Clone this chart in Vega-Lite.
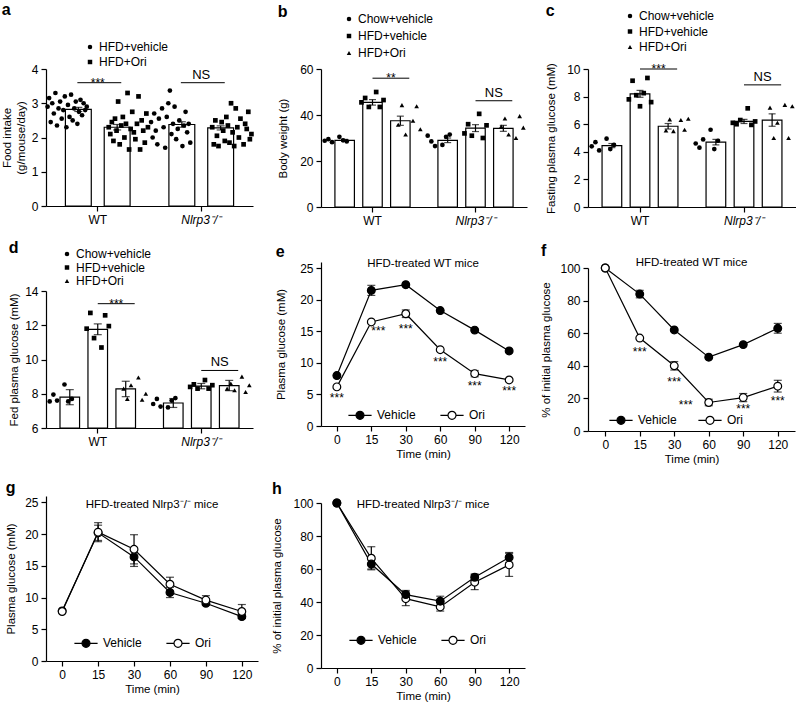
{
"$schema": "https://vega.github.io/schema/vega-lite/v6.json",
"padding": {"left": 1, "top": 2, "right": 0, "bottom": 0},
"config": {
 "font": "Liberation Sans",
 "view": {"stroke": null},
 "axis": {"domainColor": "black", "domainWidth": 1.2, "tickColor": "black", "tickWidth": 1.2, "tickSize": 5, "labelColor": "black", "titleColor": "black", "labelFontSize": 12, "titleFontSize": 11.5, "titleFontWeight": "normal", "grid": false, "labelPadding": 3, "labelOverlap": false},
 "legend": {"labelFontSize": 12, "labelColor": "black"},
 "title": {"anchor": "start", "fontSize": 16, "fontWeight": "bold", "color": "black"},
 "text": {"color": "black"}
},
"datasets": {
 "a_bar": [
  {"geno": "WT", "grp": "HFD+vehicle", "mean": 2.82, "lo": 2.76, "hi": 2.88},
  {"geno": "WT", "grp": "HFD+Ori", "mean": 2.30, "lo": 2.22, "hi": 2.38},
  {"geno": "KO", "grp": "HFD+vehicle", "mean": 2.38, "lo": 2.30, "hi": 2.46},
  {"geno": "KO", "grp": "HFD+Ori", "mean": 2.28, "lo": 2.22, "hi": 2.34}
 ],
 "a_pts": [
  {"geno":"WT","grp":"HFD+vehicle","m":"V1","v":2.9},{"geno":"WT","grp":"HFD+vehicle","m":"V2","v":3.15},{"geno":"WT","grp":"HFD+vehicle","m":"V3","v":2.45},{"geno":"WT","grp":"HFD+vehicle","m":"V4","v":3.0},{"geno":"WT","grp":"HFD+vehicle","m":"V5","v":2.7},{"geno":"WT","grp":"HFD+vehicle","m":"V6","v":3.3},{"geno":"WT","grp":"HFD+vehicle","m":"V7","v":2.35},{"geno":"WT","grp":"HFD+vehicle","m":"V8","v":2.85},{"geno":"WT","grp":"HFD+vehicle","m":"V9","v":3.05},{"geno":"WT","grp":"HFD+vehicle","m":"V10","v":2.55},{"geno":"WT","grp":"HFD+vehicle","m":"V11","v":2.8},{"geno":"WT","grp":"HFD+vehicle","m":"V12","v":3.2},{"geno":"WT","grp":"HFD+vehicle","m":"V13","v":2.3},{"geno":"WT","grp":"HFD+vehicle","m":"V14","v":2.95},{"geno":"WT","grp":"HFD+vehicle","m":"V15","v":2.6},{"geno":"WT","grp":"HFD+vehicle","m":"V16","v":3.25},{"geno":"WT","grp":"HFD+vehicle","m":"V17","v":2.5},{"geno":"WT","grp":"HFD+vehicle","m":"V18","v":2.85},{"geno":"WT","grp":"HFD+vehicle","m":"V19","v":3.05},{"geno":"WT","grp":"HFD+vehicle","m":"V20","v":2.4},{"geno":"WT","grp":"HFD+vehicle","m":"V21","v":2.75},{"geno":"WT","grp":"HFD+vehicle","m":"V22","v":3.1},{"geno":"WT","grp":"HFD+vehicle","m":"V23","v":2.65},{"geno":"WT","grp":"HFD+vehicle","m":"V24","v":3.0},{"geno":"WT","grp":"HFD+vehicle","m":"V25","v":2.8},{"geno":"WT","grp":"HFD+vehicle","m":"V26","v":2.9},
  {"geno":"WT","grp":"HFD+Ori","m":"O1","v":2.3},{"geno":"WT","grp":"HFD+Ori","m":"O2","v":2.1},{"geno":"WT","grp":"HFD+Ori","m":"O3","v":2.45},{"geno":"WT","grp":"HFD+Ori","m":"O4","v":1.9},{"geno":"WT","grp":"HFD+Ori","m":"O5","v":2.55},{"geno":"WT","grp":"HFD+Ori","m":"O6","v":2.2},{"geno":"WT","grp":"HFD+Ori","m":"O7","v":3.05},{"geno":"WT","grp":"HFD+Ori","m":"O8","v":1.8},{"geno":"WT","grp":"HFD+Ori","m":"O9","v":2.35},{"geno":"WT","grp":"HFD+Ori","m":"O10","v":2.6},{"geno":"WT","grp":"HFD+Ori","m":"O11","v":2.0},{"geno":"WT","grp":"HFD+Ori","m":"O12","v":2.4},{"geno":"WT","grp":"HFD+Ori","m":"O13","v":3.3},{"geno":"WT","grp":"HFD+Ori","m":"O14","v":1.65},{"geno":"WT","grp":"HFD+Ori","m":"O15","v":2.25},{"geno":"WT","grp":"HFD+Ori","m":"O16","v":2.75},{"geno":"WT","grp":"HFD+Ori","m":"O17","v":2.15},{"geno":"WT","grp":"HFD+Ori","m":"O18","v":1.95},{"geno":"WT","grp":"HFD+Ori","m":"O19","v":2.4},{"geno":"WT","grp":"HFD+Ori","m":"O20","v":3.2},{"geno":"WT","grp":"HFD+Ori","m":"O21","v":1.65},{"geno":"WT","grp":"HFD+Ori","m":"O22","v":2.5},{"geno":"WT","grp":"HFD+Ori","m":"O23","v":2.2},{"geno":"WT","grp":"HFD+Ori","m":"O24","v":1.85},{"geno":"WT","grp":"HFD+Ori","m":"O25","v":2.7},{"geno":"WT","grp":"HFD+Ori","m":"O26","v":2.3},
  {"geno":"KO","grp":"HFD+vehicle","m":"V1","v":2.45},{"geno":"KO","grp":"HFD+vehicle","m":"V2","v":2.0},{"geno":"KO","grp":"HFD+vehicle","m":"V3","v":2.7},{"geno":"KO","grp":"HFD+vehicle","m":"V4","v":2.2},{"geno":"KO","grp":"HFD+vehicle","m":"V5","v":1.8},{"geno":"KO","grp":"HFD+vehicle","m":"V6","v":2.55},{"geno":"KO","grp":"HFD+vehicle","m":"V8","v":2.85},{"geno":"KO","grp":"HFD+vehicle","m":"V9","v":2.3},{"geno":"KO","grp":"HFD+vehicle","m":"V10","v":1.7},{"geno":"KO","grp":"HFD+vehicle","m":"V11","v":2.6},{"geno":"KO","grp":"HFD+vehicle","m":"V12","v":3.0},{"geno":"KO","grp":"HFD+vehicle","m":"V13","v":3.37},{"geno":"KO","grp":"HFD+vehicle","m":"V14","v":2.1},{"geno":"KO","grp":"HFD+vehicle","m":"V15","v":2.4},{"geno":"KO","grp":"HFD+vehicle","m":"V16","v":2.9},{"geno":"KO","grp":"HFD+vehicle","m":"V17","v":1.95},{"geno":"KO","grp":"HFD+vehicle","m":"V18","v":2.25},{"geno":"KO","grp":"HFD+vehicle","m":"V19","v":2.5},{"geno":"KO","grp":"HFD+vehicle","m":"V21","v":1.75},{"geno":"KO","grp":"HFD+vehicle","m":"V22","v":2.35},{"geno":"KO","grp":"HFD+vehicle","m":"V23","v":2.75},{"geno":"KO","grp":"HFD+vehicle","m":"V24","v":2.15},{"geno":"KO","grp":"HFD+vehicle","m":"V25","v":2.4},{"geno":"KO","grp":"HFD+vehicle","m":"V26","v":1.85},
  {"geno":"KO","grp":"HFD+Ori","m":"O1","v":2.3},{"geno":"KO","grp":"HFD+Ori","m":"O2","v":1.8},{"geno":"KO","grp":"HFD+Ori","m":"O3","v":2.5},{"geno":"KO","grp":"HFD+Ori","m":"O4","v":2.05},{"geno":"KO","grp":"HFD+Ori","m":"O5","v":1.75},{"geno":"KO","grp":"HFD+Ori","m":"O7","v":2.45},{"geno":"KO","grp":"HFD+Ori","m":"O8","v":2.2},{"geno":"KO","grp":"HFD+Ori","m":"O9","v":1.9},{"geno":"KO","grp":"HFD+Ori","m":"O10","v":2.6},{"geno":"KO","grp":"HFD+Ori","m":"O11","v":2.35},{"geno":"KO","grp":"HFD+Ori","m":"O12","v":1.85},{"geno":"KO","grp":"HFD+Ori","m":"O13","v":3.0},{"geno":"KO","grp":"HFD+Ori","m":"O14","v":2.15},{"geno":"KO","grp":"HFD+Ori","m":"O15","v":1.75},{"geno":"KO","grp":"HFD+Ori","m":"O16","v":2.85},{"geno":"KO","grp":"HFD+Ori","m":"O17","v":2.3},{"geno":"KO","grp":"HFD+Ori","m":"O18","v":2.0},{"geno":"KO","grp":"HFD+Ori","m":"O19","v":2.55},{"geno":"KO","grp":"HFD+Ori","m":"O21","v":1.8},{"geno":"KO","grp":"HFD+Ori","m":"O22","v":2.4},{"geno":"KO","grp":"HFD+Ori","m":"O23","v":2.25},{"geno":"KO","grp":"HFD+Ori","m":"O24","v":2.75},{"geno":"KO","grp":"HFD+Ori","m":"O25","v":1.95},{"geno":"KO","grp":"HFD+Ori","m":"O26","v":2.1}
 ],
 "a_sig": [{"geno":"WT","m":"V20","y":3.6},{"geno":"WT","m":"O9","y":3.6},{"geno":"KO","m":"V20","y":3.6},{"geno":"KO","m":"O9","y":3.6}],
 "a_lab": [{"geno":"WT","m":"g7","y":3.6,"label":"***"},{"geno":"KO","m":"g7","y":3.6,"label":"NS"}],
 "b_bar": [
  {"geno":"WT","grp":"Chow+vehicle","mean":29.0,"lo":28.6,"hi":29.4},
  {"geno":"WT","grp":"HFD+vehicle","mean":45.5,"lo":44.3,"hi":46.7},
  {"geno":"WT","grp":"HFD+Ori","mean":37.5,"lo":35.5,"hi":39.5},
  {"geno":"KO","grp":"Chow+vehicle","mean":29.0,"lo":28.0,"hi":30.0},
  {"geno":"KO","grp":"HFD+vehicle","mean":34.3,"lo":32.8,"hi":35.8},
  {"geno":"KO","grp":"HFD+Ori","mean":34.2,"lo":32.9,"hi":35.5}
 ],
 "b_pts": [
  {"geno":"WT","grp":"Chow+vehicle","m":"C1","v":28.8},{"geno":"WT","grp":"Chow+vehicle","m":"C2","v":29.5},{"geno":"WT","grp":"Chow+vehicle","m":"C3","v":28.2},{"geno":"WT","grp":"Chow+vehicle","m":"C5","v":30.5},{"geno":"WT","grp":"Chow+vehicle","m":"C6","v":29.0},{"geno":"WT","grp":"Chow+vehicle","m":"C7","v":28.5},
  {"geno":"WT","grp":"HFD+vehicle","m":"H1","v":45.5},{"geno":"WT","grp":"HFD+vehicle","m":"H2","v":47.4},{"geno":"WT","grp":"HFD+vehicle","m":"H3","v":43.5},{"geno":"WT","grp":"HFD+vehicle","m":"H5","v":50.0},{"geno":"WT","grp":"HFD+vehicle","m":"H6","v":43.5},{"geno":"WT","grp":"HFD+vehicle","m":"H7","v":46.5},
  {"geno":"WT","grp":"HFD+Ori","m":"O1","v":35.8},{"geno":"WT","grp":"HFD+Ori","m":"O2","v":44.3},{"geno":"WT","grp":"HFD+Ori","m":"O3","v":31.5},{"geno":"WT","grp":"HFD+Ori","m":"O5","v":37.5},{"geno":"WT","grp":"HFD+Ori","m":"O6","v":43.8},{"geno":"WT","grp":"HFD+Ori","m":"O7","v":33.8},
  {"geno":"KO","grp":"Chow+vehicle","m":"C1","v":31.0},{"geno":"KO","grp":"Chow+vehicle","m":"C2","v":28.5},{"geno":"KO","grp":"Chow+vehicle","m":"C3","v":26.5},{"geno":"KO","grp":"Chow+vehicle","m":"C5","v":27.0},{"geno":"KO","grp":"Chow+vehicle","m":"C6","v":30.5},{"geno":"KO","grp":"Chow+vehicle","m":"C7","v":31.5},
  {"geno":"KO","grp":"HFD+vehicle","m":"H1","v":32.0},{"geno":"KO","grp":"HFD+vehicle","m":"H2","v":36.0},{"geno":"KO","grp":"HFD+vehicle","m":"H3","v":31.0},{"geno":"KO","grp":"HFD+vehicle","m":"H5","v":40.5},{"geno":"KO","grp":"HFD+vehicle","m":"H6","v":30.0},{"geno":"KO","grp":"HFD+vehicle","m":"H7","v":35.5},
  {"geno":"KO","grp":"HFD+Ori","m":"O1","v":35.0},{"geno":"KO","grp":"HFD+Ori","m":"O2","v":38.5},{"geno":"KO","grp":"HFD+Ori","m":"O3","v":31.5},{"geno":"KO","grp":"HFD+Ori","m":"O5","v":30.0},{"geno":"KO","grp":"HFD+Ori","m":"O6","v":39.5},{"geno":"KO","grp":"HFD+Ori","m":"O7","v":34.5}
 ],
 "b_sig": [{"geno":"WT","m":"H4","y":56},{"geno":"WT","m":"O4","y":56},{"geno":"KO","m":"H4","y":46.2},{"geno":"KO","m":"O4","y":46.2}],
 "b_lab": [{"geno":"WT","m":"s5","y":56,"label":"**"},{"geno":"KO","m":"s5","y":46.2,"label":"NS"}],
 "c_bar": [
  {"geno":"WT","grp":"Chow+vehicle","mean":4.45,"lo":4.3,"hi":4.6},
  {"geno":"WT","grp":"HFD+vehicle","mean":8.2,"lo":7.95,"hi":8.45},
  {"geno":"WT","grp":"HFD+Ori","mean":5.85,"lo":5.65,"hi":6.05},
  {"geno":"KO","grp":"Chow+vehicle","mean":4.7,"lo":4.5,"hi":4.9},
  {"geno":"KO","grp":"HFD+vehicle","mean":6.2,"lo":6.05,"hi":6.35},
  {"geno":"KO","grp":"HFD+Ori","mean":6.3,"lo":5.85,"hi":6.75}
 ],
 "c_pts": [
  {"geno":"WT","grp":"Chow+vehicle","m":"C1","v":4.4},{"geno":"WT","grp":"Chow+vehicle","m":"C2","v":4.7},{"geno":"WT","grp":"Chow+vehicle","m":"C3","v":4.1},{"geno":"WT","grp":"Chow+vehicle","m":"C5","v":4.95},{"geno":"WT","grp":"Chow+vehicle","m":"C6","v":4.2},{"geno":"WT","grp":"Chow+vehicle","m":"C7","v":4.5},
  {"geno":"WT","grp":"HFD+vehicle","m":"H1","v":7.8},{"geno":"WT","grp":"HFD+vehicle","m":"H2","v":9.15},{"geno":"WT","grp":"HFD+vehicle","m":"H3","v":8.1},{"geno":"WT","grp":"HFD+vehicle","m":"H4","v":7.3},{"geno":"WT","grp":"HFD+vehicle","m":"H5","v":8.25},{"geno":"WT","grp":"HFD+vehicle","m":"H6","v":9.35},{"geno":"WT","grp":"HFD+vehicle","m":"H7","v":7.6},
  {"geno":"WT","grp":"HFD+Ori","m":"O1","v":5.55},{"geno":"WT","grp":"HFD+Ori","m":"O2","v":6.35},{"geno":"WT","grp":"HFD+Ori","m":"O3","v":5.5},{"geno":"WT","grp":"HFD+Ori","m":"O5","v":6.3},{"geno":"WT","grp":"HFD+Ori","m":"O6","v":5.6},{"geno":"WT","grp":"HFD+Ori","m":"O7","v":6.4},
  {"geno":"KO","grp":"Chow+vehicle","m":"C1","v":4.6},{"geno":"KO","grp":"Chow+vehicle","m":"C2","v":4.3},{"geno":"KO","grp":"Chow+vehicle","m":"C3","v":4.9},{"geno":"KO","grp":"Chow+vehicle","m":"C5","v":5.6},{"geno":"KO","grp":"Chow+vehicle","m":"C6","v":4.2},{"geno":"KO","grp":"Chow+vehicle","m":"C7","v":4.8},
  {"geno":"KO","grp":"HFD+vehicle","m":"H1","v":6.1},{"geno":"KO","grp":"HFD+vehicle","m":"H2","v":6.0},{"geno":"KO","grp":"HFD+vehicle","m":"H3","v":6.3},{"geno":"KO","grp":"HFD+vehicle","m":"H5","v":7.15},{"geno":"KO","grp":"HFD+vehicle","m":"H6","v":5.95},{"geno":"KO","grp":"HFD+vehicle","m":"H7","v":6.2},
  {"geno":"KO","grp":"HFD+Ori","m":"O1","v":7.2},{"geno":"KO","grp":"HFD+Ori","m":"O2","v":5.0},{"geno":"KO","grp":"HFD+Ori","m":"O3","v":6.1},{"geno":"KO","grp":"HFD+Ori","m":"O5","v":7.4},{"geno":"KO","grp":"HFD+Ori","m":"O6","v":5.0},{"geno":"KO","grp":"HFD+Ori","m":"O7","v":7.3}
 ],
 "c_sig": [{"geno":"WT","m":"H4","y":10.0},{"geno":"WT","m":"O4","y":10.0},{"geno":"KO","m":"H4","y":8.85},{"geno":"KO","m":"O4","y":8.85}],
 "c_lab": [{"geno":"WT","m":"s5","y":10.0,"label":"***"},{"geno":"KO","m":"s5","y":8.85,"label":"NS"}],
 "d_bar": [
  {"geno":"WT","grp":"Chow+vehicle","mean":7.8,"lo":7.36,"hi":8.24},
  {"geno":"WT","grp":"HFD+vehicle","mean":11.76,"lo":11.45,"hi":12.08},
  {"geno":"WT","grp":"HFD+Ori","mean":8.28,"lo":7.83,"hi":8.73},
  {"geno":"KO","grp":"Chow+vehicle","mean":7.46,"lo":7.2,"hi":7.72},
  {"geno":"KO","grp":"HFD+vehicle","mean":8.44,"lo":8.29,"hi":8.6},
  {"geno":"KO","grp":"HFD+Ori","mean":8.48,"lo":8.18,"hi":8.78}
 ],
 "d_pts": [
  {"geno":"WT","grp":"Chow+vehicle","m":"C1","v":7.55},{"geno":"WT","grp":"Chow+vehicle","m":"C2","v":7.95},{"geno":"WT","grp":"Chow+vehicle","m":"C3","v":7.6},{"geno":"WT","grp":"Chow+vehicle","m":"C5","v":8.54},{"geno":"WT","grp":"Chow+vehicle","m":"C6","v":7.55},{"geno":"WT","grp":"Chow+vehicle","m":"C7","v":7.7},
  {"geno":"WT","grp":"HFD+vehicle","m":"H1","v":11.8},{"geno":"WT","grp":"HFD+vehicle","m":"H2","v":12.72},{"geno":"WT","grp":"HFD+vehicle","m":"H3","v":11.25},{"geno":"WT","grp":"HFD+vehicle","m":"H5","v":10.7},{"geno":"WT","grp":"HFD+vehicle","m":"H6","v":12.58},{"geno":"WT","grp":"HFD+vehicle","m":"H7","v":11.95},
  {"geno":"WT","grp":"HFD+Ori","m":"O1","v":8.3},{"geno":"WT","grp":"HFD+Ori","m":"O2","v":7.7},{"geno":"WT","grp":"HFD+Ori","m":"O3","v":8.5},{"geno":"WT","grp":"HFD+Ori","m":"O5","v":8.95},{"geno":"WT","grp":"HFD+Ori","m":"O6","v":7.65},{"geno":"WT","grp":"HFD+Ori","m":"O7","v":8.0},
  {"geno":"KO","grp":"Chow+vehicle","m":"C1","v":7.4},{"geno":"KO","grp":"Chow+vehicle","m":"C2","v":7.7},{"geno":"KO","grp":"Chow+vehicle","m":"C3","v":7.25},{"geno":"KO","grp":"Chow+vehicle","m":"C5","v":7.2},{"geno":"KO","grp":"Chow+vehicle","m":"C6","v":7.6},{"geno":"KO","grp":"Chow+vehicle","m":"C7","v":7.75},
  {"geno":"KO","grp":"HFD+vehicle","m":"H1","v":8.4},{"geno":"KO","grp":"HFD+vehicle","m":"H2","v":8.55},{"geno":"KO","grp":"HFD+vehicle","m":"H3","v":8.3},{"geno":"KO","grp":"HFD+vehicle","m":"H5","v":8.8},{"geno":"KO","grp":"HFD+vehicle","m":"H6","v":8.3},{"geno":"KO","grp":"HFD+vehicle","m":"H7","v":8.5},
  {"geno":"KO","grp":"HFD+Ori","m":"O1","v":8.3},{"geno":"KO","grp":"HFD+Ori","m":"O2","v":8.6},{"geno":"KO","grp":"HFD+Ori","m":"O3","v":8.2},{"geno":"KO","grp":"HFD+Ori","m":"O5","v":9.0},{"geno":"KO","grp":"HFD+Ori","m":"O6","v":8.1},{"geno":"KO","grp":"HFD+Ori","m":"O7","v":8.5}
 ],
 "d_sig": [{"geno":"WT","m":"H4","y":13.26},{"geno":"WT","m":"O4","y":13.26},{"geno":"KO","m":"H4","y":9.36},{"geno":"KO","m":"O4","y":9.36}],
 "d_lab": [{"geno":"WT","m":"s5","y":13.26,"label":"***"},{"geno":"KO","m":"s5","y":9.36,"label":"NS"}],
 "e_d": [
  {"t":0,"s":"Vehicle","v":8.0},{"t":15,"s":"Vehicle","v":21.5,"lo":20.7,"hi":22.3},{"t":30,"s":"Vehicle","v":22.4},{"t":60,"s":"Vehicle","v":18.3},{"t":90,"s":"Vehicle","v":15.2},{"t":120,"s":"Vehicle","v":11.9},
  {"t":0,"s":"Ori","v":6.2},{"t":15,"s":"Ori","v":16.5},{"t":30,"s":"Ori","v":17.8,"lo":17.2,"hi":18.4},{"t":60,"s":"Ori","v":12.1},{"t":90,"s":"Ori","v":8.3,"lo":7.8,"hi":8.8},{"t":120,"s":"Ori","v":7.3}
 ],
 "e_st": [{"t":0,"y":4.7},{"t":15,"y":15.3},{"t":30,"y":15.7},{"t":60,"y":10.5},{"t":90,"y":6.7},{"t":120,"y":5.8}],
 "f_d": [
  {"t":0,"s":"Vehicle","v":100},{"t":15,"s":"Vehicle","v":84,"lo":81.7,"hi":86.3},{"t":30,"s":"Vehicle","v":62},{"t":60,"s":"Vehicle","v":45.3},{"t":90,"s":"Vehicle","v":53},{"t":120,"s":"Vehicle","v":63,"lo":60,"hi":66},
  {"t":0,"s":"Ori","v":100},{"t":15,"s":"Ori","v":57},{"t":30,"s":"Ori","v":40,"lo":37.4,"hi":42.6},{"t":60,"s":"Ori","v":17.5,"lo":15.5,"hi":19.5},{"t":90,"s":"Ori","v":20.5,"lo":18,"hi":23},{"t":120,"s":"Ori","v":27.5,"lo":23.9,"hi":31.1}
 ],
 "f_st": [{"t":15,"y":50},{"t":30,"y":31.2},{"t":60,"y":17.3},{"t":90,"y":15.0},{"t":120,"y":19.4}],
 "g_d": [
  {"t":0,"s":"Vehicle","v":7.9},{"t":15,"s":"Vehicle","v":20.2,"lo":19.0,"hi":21.4},{"t":30,"s":"Vehicle","v":16.4,"lo":14.9,"hi":17.9},{"t":60,"s":"Vehicle","v":10.8,"lo":10.0,"hi":11.6},{"t":90,"s":"Vehicle","v":9.1,"lo":8.8,"hi":9.4},{"t":120,"s":"Vehicle","v":7.0,"lo":6.7,"hi":7.3},
  {"t":0,"s":"Ori","v":7.8},{"t":15,"s":"Ori","v":20.3,"lo":18.8,"hi":21.8},{"t":30,"s":"Ori","v":17.6,"lo":15.3,"hi":19.9},{"t":60,"s":"Ori","v":12.1,"lo":11.0,"hi":13.2},{"t":90,"s":"Ori","v":9.6,"lo":8.9,"hi":10.3},{"t":120,"s":"Ori","v":7.8,"lo":6.7,"hi":8.9}
 ],
 "h_d": [
  {"t":0,"s":"Ori","v":100},{"t":15,"s":"Ori","v":66.5,"lo":59.5,"hi":73.5},{"t":30,"s":"Ori","v":42,"lo":37.8,"hi":46.2},{"t":60,"s":"Ori","v":37,"lo":34.5,"hi":39.5},{"t":90,"s":"Ori","v":52,"lo":47.5,"hi":56.5},{"t":120,"s":"Ori","v":62.5,"lo":55.5,"hi":69.5},
  {"t":0,"s":"Vehicle","v":100},{"t":15,"s":"Vehicle","v":63,"lo":60,"hi":66},{"t":30,"s":"Vehicle","v":44.5,"lo":42,"hi":47},{"t":60,"s":"Vehicle","v":40.5,"lo":37.5,"hi":43.5},{"t":90,"s":"Vehicle","v":55,"lo":53,"hi":57},{"t":120,"s":"Vehicle","v":67,"lo":64,"hi":70}
 ]
},
"spacing": 13,
"resolve": {"scale": {"shape": "independent", "fill": "independent"}, "legend": {"shape": "independent", "fill": "independent"}},
"hconcat": [
 {"spacing": 33, "resolve": {"scale": {"shape": "independent", "fill": "independent"}, "legend": {"shape": "independent", "fill": "independent"}}, "vconcat": [
  {"spacing": 15, "resolve": {"scale": {"shape": "independent", "fill": "independent"}, "legend": {"shape": "independent", "fill": "independent"}}, "vconcat": [
   {"title": {"text": "a", "offset": 23}, "vconcat": [{
    "width": 207, "height": 137,
    "encoding": {"x": {"field": "geno", "type": "nominal", "scale": {"domain": ["WT", "KO"], "paddingInner": 0, "paddingOuter": 0}, "axis": {"title": null, "labelAngle": 0, "labelExpr": "datum.value === 'WT' ? 'WT' : 'Nlrp3⁻/⁻'", "labelFontStyle": {"condition": {"test": "datum.value === 'KO'", "value": "italic"}, "value": "normal"}}}},
    "layer": [
     {"data": {"name": "a_bar"}, "mark": {"type": "bar", "fill": "white", "stroke": "black", "strokeWidth": 1.2},
      "encoding": {"xOffset": {"field": "grp", "type": "nominal", "scale": {"domain": ["HFD+vehicle", "HFD+Ori"], "paddingInner": 0.3333, "paddingOuter": 0.5}},
       "y": {"field": "mean", "type": "quantitative", "scale": {"domain": [0, 4]}, "axis": {"values": [0, 1, 2, 3, 4], "tickCount": 5, "labelOverlap": false, "title": ["Food intake", "(g/mouse/day)"], "titlePadding": 5}}}},
     {"data": {"name": "a_pts"}, "mark": {"type": "point", "filled": true, "color": "black", "size": 22, "opacity": 1},
      "encoding": {"xOffset": {"field": "m", "type": "nominal", "scale": {"domain": ["V1","V2","V3","V4","V5","V6","V7","V8","V9","V10","V11","V12","V13","V14","V15","V16","V17","V18","V19","V20","V21","V22","V23","V24","V25","V26","g1","g2","g3","g4","g5","g6","g7","g8","g9","g10","g11","g12","g13","O1","O2","O3","O4","O5","O6","O7","O8","O9","O10","O11","O12","O13","O14","O15","O16","O17","O18","O19","O20","O21","O22","O23","O24","O25","O26"], "paddingInner": 0, "paddingOuter": 19.5}},
       "y": {"field": "v", "type": "quantitative"},
       "shape": {"field": "grp", "type": "nominal", "scale": {"domain": ["HFD+vehicle", "HFD+Ori"], "range": ["circle", "square"]},
        "legend": {"orient": "none", "legendX": 38, "legendY": -28, "title": null, "symbolSize": 20, "symbolFillColor": "black", "symbolStrokeWidth": 0, "rowPadding": 3, "labelOffset": 3}}}},
     {"data": {"name": "a_bar"}, "mark": {"type": "rule", "color": "black", "strokeWidth": 1.2},
      "encoding": {"xOffset": {"field": "grp", "type": "nominal", "scale": {"domain": ["HFD+vehicle", "HFD+Ori"], "paddingInner": 0.3333, "paddingOuter": 0.5}}, "y": {"field": "lo", "type": "quantitative"}, "y2": {"field": "hi"}}},
     {"data": {"name": "a_bar"}, "mark": {"type": "tick", "color": "black", "thickness": 1.2, "size": 8},
      "encoding": {"xOffset": {"field": "grp", "type": "nominal", "scale": {"domain": ["HFD+vehicle", "HFD+Ori"], "paddingInner": 0.3333, "paddingOuter": 0.5}}, "y": {"field": "lo", "type": "quantitative"}}},
     {"data": {"name": "a_bar"}, "mark": {"type": "tick", "color": "black", "thickness": 1.2, "size": 8},
      "encoding": {"xOffset": {"field": "grp", "type": "nominal", "scale": {"domain": ["HFD+vehicle", "HFD+Ori"], "paddingInner": 0.3333, "paddingOuter": 0.5}}, "y": {"field": "hi", "type": "quantitative"}}},
     {"data": {"name": "a_sig"}, "mark": {"type": "line", "color": "black", "strokeWidth": 1},
      "encoding": {"xOffset": {"field": "m", "type": "nominal", "scale": {"domain": ["V1","V2","V3","V4","V5","V6","V7","V8","V9","V10","V11","V12","V13","V14","V15","V16","V17","V18","V19","V20","V21","V22","V23","V24","V25","V26","g1","g2","g3","g4","g5","g6","g7","g8","g9","g10","g11","g12","g13","O1","O2","O3","O4","O5","O6","O7","O8","O9","O10","O11","O12","O13","O14","O15","O16","O17","O18","O19","O20","O21","O22","O23","O24","O25","O26"], "paddingInner": 0, "paddingOuter": 19.5}}, "y": {"field": "y", "type": "quantitative"}, "detail": {"field": "geno"}}},
     {"data": {"name": "a_lab"}, "transform": [{"filter": "datum.label !== 'NS'"}], "mark": {"type": "text", "baseline": "alphabetic", "dy": 4, "fontSize": 12},
      "encoding": {"y": {"field": "y", "type": "quantitative"}, "text": {"field": "label"}}},
     {"data": {"name": "a_lab"}, "transform": [{"filter": "datum.label === 'NS'"}], "mark": {"type": "text", "baseline": "alphabetic", "dy": -4, "fontSize": 13},
      "encoding": {"y": {"field": "y", "type": "quantitative"}, "text": {"field": "label"}}}
    ],
    "resolve": {"scale": {"xOffset": "independent"}}
   }]},
   {"title": {"text": "d", "offset": -8}, "vconcat": [{
    "width": 207, "height": 137,
    "encoding": {"x": {"field": "geno", "type": "nominal", "scale": {"domain": ["WT", "KO"], "paddingInner": 0, "paddingOuter": 0}, "axis": {"title": null, "labelAngle": 0, "labelExpr": "datum.value === 'WT' ? 'WT' : 'Nlrp3⁻/⁻'", "labelFontStyle": {"condition": {"test": "datum.value === 'KO'", "value": "italic"}, "value": "normal"}}}},
    "layer": [
     {"data": {"name": "d_bar"}, "mark": {"type": "bar", "fill": "white", "stroke": "black", "strokeWidth": 1.2},
      "encoding": {"xOffset": {"field": "grp", "type": "nominal", "scale": {"domain": ["Chow+vehicle", "HFD+vehicle", "HFD+Ori"], "paddingInner": 0.3, "paddingOuter": 0.5}},
       "y": {"field": "mean", "type": "quantitative", "scale": {"domain": [6, 14], "zero": false}, "axis": {"values": [6, 8, 10, 12, 14], "tickCount": 5, "labelOverlap": false, "title": "Fed plasma glucose (mM)", "titlePadding": 5}}, "y2": {"datum": 6}}},
     {"data": {"name": "d_pts"}, "mark": {"type": "point", "filled": true, "color": "black", "size": 22, "opacity": 1},
      "encoding": {"xOffset": {"field": "m", "type": "nominal", "scale": {"domain": ["C1","C2","C3","C4","C5","C6","C7","s1","s2","s3","H1","H2","H3","H4","H5","H6","H7","s4","s5","s6","O1","O2","O3","O4","O5","O6","O7"], "paddingInner": 0, "paddingOuter": 5}},
       "y": {"field": "v", "type": "quantitative"},
       "shape": {"field": "grp", "type": "nominal", "scale": {"domain": ["Chow+vehicle", "HFD+vehicle", "HFD+Ori"], "range": ["circle", "square", "triangle-up"]},
        "legend": {"orient": "none", "legendX": 15, "legendY": -43, "title": null, "symbolSize": 20, "symbolFillColor": "black", "symbolStrokeWidth": 0, "rowPadding": 1.5, "labelOffset": 3}}}},
     {"data": {"name": "d_bar"}, "mark": {"type": "rule", "color": "black", "strokeWidth": 1.2},
      "encoding": {"xOffset": {"field": "grp", "type": "nominal", "scale": {"domain": ["Chow+vehicle", "HFD+vehicle", "HFD+Ori"], "paddingInner": 0.3, "paddingOuter": 0.5}}, "y": {"field": "lo", "type": "quantitative"}, "y2": {"field": "hi"}}},
     {"data": {"name": "d_bar"}, "mark": {"type": "tick", "color": "black", "thickness": 1.2, "size": 8},
      "encoding": {"xOffset": {"field": "grp", "type": "nominal", "scale": {"domain": ["Chow+vehicle", "HFD+vehicle", "HFD+Ori"], "paddingInner": 0.3, "paddingOuter": 0.5}}, "y": {"field": "lo", "type": "quantitative"}}},
     {"data": {"name": "d_bar"}, "mark": {"type": "tick", "color": "black", "thickness": 1.2, "size": 8},
      "encoding": {"xOffset": {"field": "grp", "type": "nominal", "scale": {"domain": ["Chow+vehicle", "HFD+vehicle", "HFD+Ori"], "paddingInner": 0.3, "paddingOuter": 0.5}}, "y": {"field": "hi", "type": "quantitative"}}},
     {"data": {"name": "d_sig"}, "mark": {"type": "line", "color": "black", "strokeWidth": 1},
      "encoding": {"xOffset": {"field": "m", "type": "nominal", "scale": {"domain": ["C1","C2","C3","C4","C5","C6","C7","s1","s2","s3","H1","H2","H3","H4","H5","H6","H7","s4","s5","s6","O1","O2","O3","O4","O5","O6","O7"], "paddingInner": 0, "paddingOuter": 5}}, "y": {"field": "y", "type": "quantitative"}, "detail": {"field": "geno"}}},
     {"data": {"name": "d_lab"}, "transform": [{"filter": "datum.label !== 'NS'"}], "mark": {"type": "text", "baseline": "alphabetic", "dy": 4, "fontSize": 12},
      "encoding": {"xOffset": {"field": "m", "type": "nominal", "scale": {"domain": ["C1","C2","C3","C4","C5","C6","C7","s1","s2","s3","H1","H2","H3","H4","H5","H6","H7","s4","s5","s6","O1","O2","O3","O4","O5","O6","O7"], "paddingInner": 0, "paddingOuter": 5}}, "y": {"field": "y", "type": "quantitative"}, "text": {"field": "label"}}},
     {"data": {"name": "d_lab"}, "transform": [{"filter": "datum.label === 'NS'"}], "mark": {"type": "text", "baseline": "alphabetic", "dy": -4, "fontSize": 13},
      "encoding": {"xOffset": {"field": "m", "type": "nominal", "scale": {"domain": ["C1","C2","C3","C4","C5","C6","C7","s1","s2","s3","H1","H2","H3","H4","H5","H6","H7","s4","s5","s6","O1","O2","O3","O4","O5","O6","O7"], "paddingInner": 0, "paddingOuter": 5}}, "y": {"field": "y", "type": "quantitative"}, "text": {"field": "label"}}}
    ],
    "resolve": {"scale": {"xOffset": "independent"}}
   }]}
  ]},
  {"title": {"text": "g", "offset": 0}, "vconcat": [{
   "width": 212, "height": 165,
   "title": {"text": "HFD-treated Nlrp3⁻/⁻ mice", "anchor": "middle", "frame": "group", "fontSize": 11.5, "fontWeight": "normal", "offset": -14},
   "data": {"name": "g_d"},
   "encoding": {"x": {"field": "t", "type": "ordinal", "scale": {"type": "point", "padding": 0.45}, "axis": {"title": "Time (min)", "labelAngle": 0, "titlePadding": 3}}},
   "layer": [
    {"mark": {"type": "line", "color": "black", "strokeWidth": 1.2}, "encoding": {"y": {"field": "v", "type": "quantitative", "scale": {"domain": [0, 25]}, "axis": {"values": [0, 5, 10, 15, 20, 25], "tickCount": 6, "labelOverlap": false, "title": "Plasma glucose (mM)", "titlePadding": 8}}, "detail": {"field": "s"}}},
    {"mark": {"type": "rule", "color": "black", "strokeWidth": 1.2}, "encoding": {"y": {"field": "lo", "type": "quantitative"}, "y2": {"field": "hi"}}},
    {"mark": {"type": "tick", "color": "black", "thickness": 1.2, "size": 8}, "encoding": {"y": {"field": "lo", "type": "quantitative"}}},
    {"mark": {"type": "tick", "color": "black", "thickness": 1.2, "size": 8}, "encoding": {"y": {"field": "hi", "type": "quantitative"}}},
    {"mark": {"type": "point", "shape": "circle", "filled": true, "stroke": "black", "strokeWidth": 1.2, "size": 60, "opacity": 1},
     "encoding": {"y": {"field": "v", "type": "quantitative"}, "fill": {"field": "s", "type": "nominal", "scale": {"domain": ["Vehicle", "Ori"], "range": ["black", "white"]},
      "legend": {"orient": "none", "legendX": 34, "legendY": 141, "direction": "horizontal", "title": null, "symbolType": "M-2.9,0L-1,0M1,0L2.9,0M1,0A1,1,0,1,1,-1,0A1,1,0,1,1,1,0Z", "symbolSize": 64, "symbolStrokeColor": "black", "symbolStrokeWidth": 1.2, "labelOffset": 11, "columnPadding": 22}}}}
   ]
  }]}
 ]},
 {"spacing": 20, "resolve": {"scale": {"shape": "independent", "fill": "independent"}, "legend": {"shape": "independent", "fill": "independent"}}, "vconcat": [
  {"spacing": 17, "resolve": {"scale": {"shape": "independent", "fill": "independent"}, "legend": {"shape": "independent", "fill": "independent"}}, "vconcat": [
  {"title": {"text": "b", "offset": -7}, "vconcat": [{
   "width": 206, "height": 138,
   "encoding": {"x": {"field": "geno", "type": "nominal", "scale": {"domain": ["WT", "KO"], "paddingInner": 0, "paddingOuter": 0}, "axis": {"title": null, "labelAngle": 0, "labelExpr": "datum.value === 'WT' ? 'WT' : 'Nlrp3⁻/⁻'", "labelFontStyle": {"condition": {"test": "datum.value === 'KO'", "value": "italic"}, "value": "normal"}}}},
   "layer": [
    {"data": {"name": "b_bar"}, "mark": {"type": "bar", "fill": "white", "stroke": "black", "strokeWidth": 1.2},
     "encoding": {"xOffset": {"field": "grp", "type": "nominal", "scale": {"domain": ["Chow+vehicle", "HFD+vehicle", "HFD+Ori"], "paddingInner": 0.3, "paddingOuter": 0.5}},
      "y": {"field": "mean", "type": "quantitative", "scale": {"domain": [0, 60]}, "axis": {"values": [0, 20, 40, 60], "tickCount": 4, "labelOverlap": false, "title": "Body weight (g)", "titlePadding": 11}}}},
    {"data": {"name": "b_pts"}, "mark": {"type": "point", "filled": true, "color": "black", "size": 22, "opacity": 1},
     "encoding": {"xOffset": {"field": "m", "type": "nominal", "scale": {"domain": ["C1","C2","C3","C4","C5","C6","C7","s1","s2","s3","H1","H2","H3","H4","H5","H6","H7","s4","s5","s6","O1","O2","O3","O4","O5","O6","O7"], "paddingInner": 0, "paddingOuter": 5}},
      "y": {"field": "v", "type": "quantitative"},
      "shape": {"field": "grp", "type": "nominal", "scale": {"domain": ["Chow+vehicle", "HFD+vehicle", "HFD+Ori"], "range": ["circle", "square", "triangle-up"]},
       "legend": {"orient": "none", "legendX": 22, "legendY": -56, "title": null, "symbolSize": 20, "symbolFillColor": "black", "symbolStrokeWidth": 0, "rowPadding": 5, "labelOffset": 3}}}},
    {"data": {"name": "b_bar"}, "mark": {"type": "rule", "color": "black", "strokeWidth": 1.2},
     "encoding": {"xOffset": {"field": "grp", "type": "nominal", "scale": {"domain": ["Chow+vehicle", "HFD+vehicle", "HFD+Ori"], "paddingInner": 0.3, "paddingOuter": 0.5}}, "y": {"field": "lo", "type": "quantitative"}, "y2": {"field": "hi"}}},
    {"data": {"name": "b_bar"}, "mark": {"type": "tick", "color": "black", "thickness": 1.2, "size": 7},
     "encoding": {"xOffset": {"field": "grp", "type": "nominal", "scale": {"domain": ["Chow+vehicle", "HFD+vehicle", "HFD+Ori"], "paddingInner": 0.3, "paddingOuter": 0.5}}, "y": {"field": "lo", "type": "quantitative"}}},
    {"data": {"name": "b_bar"}, "mark": {"type": "tick", "color": "black", "thickness": 1.2, "size": 7},
     "encoding": {"xOffset": {"field": "grp", "type": "nominal", "scale": {"domain": ["Chow+vehicle", "HFD+vehicle", "HFD+Ori"], "paddingInner": 0.3, "paddingOuter": 0.5}}, "y": {"field": "hi", "type": "quantitative"}}},
    {"data": {"name": "b_sig"}, "mark": {"type": "line", "color": "black", "strokeWidth": 1},
     "encoding": {"xOffset": {"field": "m", "type": "nominal", "scale": {"domain": ["C1","C2","C3","C4","C5","C6","C7","s1","s2","s3","H1","H2","H3","H4","H5","H6","H7","s4","s5","s6","O1","O2","O3","O4","O5","O6","O7"], "paddingInner": 0, "paddingOuter": 5}}, "y": {"field": "y", "type": "quantitative"}, "detail": {"field": "geno"}}},
    {"data": {"name": "b_lab"}, "transform": [{"filter": "datum.label !== 'NS'"}], "mark": {"type": "text", "baseline": "alphabetic", "dy": 4, "fontSize": 12},
     "encoding": {"xOffset": {"field": "m", "type": "nominal", "scale": {"domain": ["C1","C2","C3","C4","C5","C6","C7","s1","s2","s3","H1","H2","H3","H4","H5","H6","H7","s4","s5","s6","O1","O2","O3","O4","O5","O6","O7"], "paddingInner": 0, "paddingOuter": 5}}, "y": {"field": "y", "type": "quantitative"}, "text": {"field": "label"}}},
    {"data": {"name": "b_lab"}, "transform": [{"filter": "datum.label === 'NS'"}], "mark": {"type": "text", "baseline": "alphabetic", "dy": -4, "fontSize": 13},
     "encoding": {"xOffset": {"field": "m", "type": "nominal", "scale": {"domain": ["C1","C2","C3","C4","C5","C6","C7","s1","s2","s3","H1","H2","H3","H4","H5","H6","H7","s4","s5","s6","O1","O2","O3","O4","O5","O6","O7"], "paddingInner": 0, "paddingOuter": 5}}, "y": {"field": "y", "type": "quantitative"}, "text": {"field": "label"}}}
   ],
   "resolve": {"scale": {"xOffset": "independent"}}
  }]},
  {"title": {"text": "e", "offset": -2}, "vconcat": [{
   "width": 204, "height": 164,
   "title": {"text": "HFD-treated WT mice", "anchor": "middle", "frame": "group", "fontSize": 11.5, "fontWeight": "normal", "offset": -7},
   "data": {"name": "e_d"},
   "encoding": {"x": {"field": "t", "type": "ordinal", "scale": {"type": "point", "padding": 0.46}, "axis": {"title": "Time (min)", "labelAngle": 0, "titlePadding": 3}}},
   "layer": [
    {"mark": {"type": "line", "color": "black", "strokeWidth": 1.2}, "encoding": {"y": {"field": "v", "type": "quantitative", "scale": {"domain": [0, 25]}, "axis": {"values": [0, 5, 10, 15, 20, 25], "tickCount": 6, "labelOverlap": false, "title": "Plasma glucose (mM)", "titlePadding": 13}}, "detail": {"field": "s"}}},
    {"mark": {"type": "rule", "color": "black", "strokeWidth": 1.2}, "encoding": {"y": {"field": "lo", "type": "quantitative", "axis": {"values": [0, 5, 10, 15, 20, 25], "tickCount": 6, "labelOverlap": false, "title": "Plasma glucose (mM)", "titlePadding": 13}}, "y2": {"field": "hi"}}},
    {"mark": {"type": "tick", "color": "black", "thickness": 1.2, "size": 8}, "encoding": {"y": {"field": "lo", "type": "quantitative", "axis": {"values": [0, 5, 10, 15, 20, 25], "tickCount": 6, "labelOverlap": false, "title": "Plasma glucose (mM)", "titlePadding": 13}}}},
    {"mark": {"type": "tick", "color": "black", "thickness": 1.2, "size": 8}, "encoding": {"y": {"field": "hi", "type": "quantitative", "axis": {"values": [0, 5, 10, 15, 20, 25], "tickCount": 6, "labelOverlap": false, "title": "Plasma glucose (mM)", "titlePadding": 13}}}},
    {"mark": {"type": "point", "shape": "circle", "filled": true, "stroke": "black", "strokeWidth": 1.2, "size": 60, "opacity": 1},
     "encoding": {"y": {"field": "v", "type": "quantitative", "axis": {"values": [0, 5, 10, 15, 20, 25], "tickCount": 6, "labelOverlap": false, "title": "Plasma glucose (mM)", "titlePadding": 13}}, "fill": {"field": "s", "type": "nominal", "scale": {"domain": ["Vehicle", "Ori"], "range": ["black", "white"]},
      "legend": {"orient": "none", "legendX": 33, "legendY": 147, "direction": "horizontal", "title": null, "symbolType": "M-2.9,0L-1,0M1,0L2.9,0M1,0A1,1,0,1,1,-1,0A1,1,0,1,1,1,0Z", "symbolSize": 64, "symbolStrokeColor": "black", "symbolStrokeWidth": 1.2, "labelOffset": 11, "columnPadding": 22}}}},
    {"data": {"name": "e_st"}, "transform": [{"filter": "datum.t !== 15"}], "mark": {"type": "text", "fontSize": 12, "baseline": "middle", "dy": 2}, "encoding": {"y": {"field": "y", "type": "quantitative", "axis": {"values": [0, 5, 10, 15, 20, 25], "tickCount": 6, "labelOverlap": false, "title": "Plasma glucose (mM)", "titlePadding": 13}}, "text": {"value": "***"}}},
    {"data": {"name": "e_st"}, "transform": [{"filter": "datum.t === 15"}], "mark": {"type": "text", "fontSize": 12, "baseline": "middle", "dy": 2, "dx": 7}, "encoding": {"y": {"field": "y", "type": "quantitative", "axis": {"values": [0, 5, 10, 15, 20, 25], "tickCount": 6, "labelOverlap": false, "title": "Plasma glucose (mM)", "titlePadding": 13}}, "text": {"value": "***"}}}
   ]
  }]}
  ]},
  {"title": {"text": "h", "offset": 0}, "vconcat": [{
   "width": 204, "height": 165,
   "title": {"text": "HFD-treated Nlrp3⁻/⁻ mice", "anchor": "middle", "frame": "group", "fontSize": 11.5, "fontWeight": "normal", "offset": -14},
   "data": {"name": "h_d"},
   "encoding": {"x": {"field": "t", "type": "ordinal", "scale": {"type": "point", "padding": 0.46}, "axis": {"title": "Time (min)", "labelAngle": 0, "titlePadding": 3}}},
   "layer": [
    {"mark": {"type": "line", "color": "black", "strokeWidth": 1.2}, "encoding": {"y": {"field": "v", "type": "quantitative", "scale": {"domain": [0, 100]}, "axis": {"values": [0, 20, 40, 60, 80, 100], "tickCount": 6, "labelOverlap": false, "title": "% of initial plasma glucose", "titlePadding": 10}}, "detail": {"field": "s"}}},
    {"mark": {"type": "rule", "color": "black", "strokeWidth": 1.2}, "encoding": {"y": {"field": "lo", "type": "quantitative"}, "y2": {"field": "hi"}}},
    {"mark": {"type": "tick", "color": "black", "thickness": 1.2, "size": 8}, "encoding": {"y": {"field": "lo", "type": "quantitative"}}},
    {"mark": {"type": "tick", "color": "black", "thickness": 1.2, "size": 8}, "encoding": {"y": {"field": "hi", "type": "quantitative"}}},
    {"mark": {"type": "point", "shape": "circle", "filled": true, "stroke": "black", "strokeWidth": 1.2, "size": 60, "opacity": 1},
     "encoding": {"y": {"field": "v", "type": "quantitative"}, "fill": {"field": "s", "type": "nominal", "scale": {"domain": ["Vehicle", "Ori"], "range": ["black", "white"]},
      "legend": {"orient": "none", "legendX": 34, "legendY": 131, "direction": "horizontal", "title": null, "symbolType": "M-2.9,0L-1,0M1,0L2.9,0M1,0A1,1,0,1,1,-1,0A1,1,0,1,1,1,0Z", "symbolSize": 64, "symbolStrokeColor": "black", "symbolStrokeWidth": 1.2, "labelOffset": 11, "columnPadding": 22}}}}
   ]
  }]}
 ]},
 {"spacing": 17, "resolve": {"scale": {"shape": "independent", "fill": "independent"}, "legend": {"shape": "independent", "fill": "independent"}}, "vconcat": [
  {"title": {"text": "c", "offset": -9}, "vconcat": [{
   "width": 208, "height": 138,
   "encoding": {"x": {"field": "geno", "type": "nominal", "scale": {"domain": ["WT", "KO"], "paddingInner": 0, "paddingOuter": 0}, "axis": {"title": null, "labelAngle": 0, "labelExpr": "datum.value === 'WT' ? 'WT' : 'Nlrp3⁻/⁻'", "labelFontStyle": {"condition": {"test": "datum.value === 'KO'", "value": "italic"}, "value": "normal"}}}},
   "layer": [
    {"data": {"name": "c_bar"}, "mark": {"type": "bar", "fill": "white", "stroke": "black", "strokeWidth": 1.2},
     "encoding": {"xOffset": {"field": "grp", "type": "nominal", "scale": {"domain": ["Chow+vehicle", "HFD+vehicle", "HFD+Ori"], "paddingInner": 0.3, "paddingOuter": 0.5}},
      "y": {"field": "mean", "type": "quantitative", "scale": {"domain": [0, 10]}, "axis": {"values": [0, 2, 4, 6, 8, 10], "tickCount": 6, "labelOverlap": false, "title": "Fasting plasma glucose (mM)", "titlePadding": 10}}}},
    {"data": {"name": "c_pts"}, "mark": {"type": "point", "filled": true, "color": "black", "size": 22, "opacity": 1},
     "encoding": {"xOffset": {"field": "m", "type": "nominal", "scale": {"domain": ["C1","C2","C3","C4","C5","C6","C7","s1","s2","s3","H1","H2","H3","H4","H5","H6","H7","s4","s5","s6","O1","O2","O3","O4","O5","O6","O7"], "paddingInner": 0, "paddingOuter": 5}},
      "y": {"field": "v", "type": "quantitative", "axis": {"values": [0, 2, 4, 6, 8, 10], "tickCount": 6, "labelOverlap": false, "title": "Fasting plasma glucose (mM)", "titlePadding": 10}},
      "shape": {"field": "grp", "type": "nominal", "scale": {"domain": ["Chow+vehicle", "HFD+vehicle", "HFD+Ori"], "range": ["circle", "square", "triangle-up"]},
       "legend": {"orient": "none", "legendX": 36, "legendY": -59, "title": null, "symbolSize": 20, "symbolFillColor": "black", "symbolStrokeWidth": 0, "rowPadding": 3.5, "labelOffset": 3}}}},
    {"data": {"name": "c_bar"}, "mark": {"type": "rule", "color": "black", "strokeWidth": 1.2},
     "encoding": {"xOffset": {"field": "grp", "type": "nominal", "scale": {"domain": ["Chow+vehicle", "HFD+vehicle", "HFD+Ori"], "paddingInner": 0.3, "paddingOuter": 0.5}}, "y": {"field": "lo", "type": "quantitative", "axis": {"values": [0, 2, 4, 6, 8, 10], "tickCount": 6, "labelOverlap": false, "title": "Fasting plasma glucose (mM)", "titlePadding": 10}}, "y2": {"field": "hi"}}},
    {"data": {"name": "c_bar"}, "mark": {"type": "tick", "color": "black", "thickness": 1.2, "size": 7},
     "encoding": {"xOffset": {"field": "grp", "type": "nominal", "scale": {"domain": ["Chow+vehicle", "HFD+vehicle", "HFD+Ori"], "paddingInner": 0.3, "paddingOuter": 0.5}}, "y": {"field": "lo", "type": "quantitative", "axis": {"values": [0, 2, 4, 6, 8, 10], "tickCount": 6, "labelOverlap": false, "title": "Fasting plasma glucose (mM)", "titlePadding": 10}}}},
    {"data": {"name": "c_bar"}, "mark": {"type": "tick", "color": "black", "thickness": 1.2, "size": 7},
     "encoding": {"xOffset": {"field": "grp", "type": "nominal", "scale": {"domain": ["Chow+vehicle", "HFD+vehicle", "HFD+Ori"], "paddingInner": 0.3, "paddingOuter": 0.5}}, "y": {"field": "hi", "type": "quantitative", "axis": {"values": [0, 2, 4, 6, 8, 10], "tickCount": 6, "labelOverlap": false, "title": "Fasting plasma glucose (mM)", "titlePadding": 10}}}},
    {"data": {"name": "c_sig"}, "mark": {"type": "line", "color": "black", "strokeWidth": 1},
     "encoding": {"xOffset": {"field": "m", "type": "nominal", "scale": {"domain": ["C1","C2","C3","C4","C5","C6","C7","s1","s2","s3","H1","H2","H3","H4","H5","H6","H7","s4","s5","s6","O1","O2","O3","O4","O5","O6","O7"], "paddingInner": 0, "paddingOuter": 5}}, "y": {"field": "y", "type": "quantitative", "axis": {"values": [0, 2, 4, 6, 8, 10], "tickCount": 6, "labelOverlap": false, "title": "Fasting plasma glucose (mM)", "titlePadding": 10}}, "detail": {"field": "geno"}}},
    {"data": {"name": "c_lab"}, "transform": [{"filter": "datum.label !== 'NS'"}], "mark": {"type": "text", "baseline": "alphabetic", "dy": 4, "fontSize": 12},
     "encoding": {"xOffset": {"field": "m", "type": "nominal", "scale": {"domain": ["C1","C2","C3","C4","C5","C6","C7","s1","s2","s3","H1","H2","H3","H4","H5","H6","H7","s4","s5","s6","O1","O2","O3","O4","O5","O6","O7"], "paddingInner": 0, "paddingOuter": 5}}, "y": {"field": "y", "type": "quantitative", "axis": {"values": [0, 2, 4, 6, 8, 10], "tickCount": 6, "labelOverlap": false, "title": "Fasting plasma glucose (mM)", "titlePadding": 10}}, "text": {"field": "label"}}},
    {"data": {"name": "c_lab"}, "transform": [{"filter": "datum.label === 'NS'"}], "mark": {"type": "text", "baseline": "alphabetic", "dy": -4, "fontSize": 13},
     "encoding": {"xOffset": {"field": "m", "type": "nominal", "scale": {"domain": ["C1","C2","C3","C4","C5","C6","C7","s1","s2","s3","H1","H2","H3","H4","H5","H6","H7","s4","s5","s6","O1","O2","O3","O4","O5","O6","O7"], "paddingInner": 0, "paddingOuter": 5}}, "y": {"field": "y", "type": "quantitative", "axis": {"values": [0, 2, 4, 6, 8, 10], "tickCount": 6, "labelOverlap": false, "title": "Fasting plasma glucose (mM)", "titlePadding": 10}}, "text": {"field": "label"}}}
   ],
   "resolve": {"scale": {"xOffset": "independent"}}
  }]},
  {"title": {"text": "f", "offset": -2}, "vconcat": [{
   "width": 207, "height": 163,
   "title": {"text": "HFD-treated WT mice", "anchor": "middle", "frame": "group", "fontSize": 11.5, "fontWeight": "normal", "offset": -7},
   "data": {"name": "f_d"},
   "encoding": {"x": {"field": "t", "type": "ordinal", "scale": {"type": "point", "padding": 0.5}, "axis": {"title": "Time (min)", "labelAngle": 0, "titlePadding": 3}}},
   "layer": [
    {"mark": {"type": "line", "color": "black", "strokeWidth": 1.2}, "encoding": {"y": {"field": "v", "type": "quantitative", "scale": {"domain": [0, 100]}, "axis": {"values": [0, 20, 40, 60, 80, 100], "tickCount": 6, "labelOverlap": false, "title": "% of initial plasma glucose", "titlePadding": 8}}, "detail": {"field": "s"}}},
    {"mark": {"type": "rule", "color": "black", "strokeWidth": 1.2}, "encoding": {"y": {"field": "lo", "type": "quantitative", "axis": {"values": [0, 20, 40, 60, 80, 100], "tickCount": 6, "labelOverlap": false, "title": "% of initial plasma glucose", "titlePadding": 8}}, "y2": {"field": "hi"}}},
    {"mark": {"type": "tick", "color": "black", "thickness": 1.2, "size": 8}, "encoding": {"y": {"field": "lo", "type": "quantitative", "axis": {"values": [0, 20, 40, 60, 80, 100], "tickCount": 6, "labelOverlap": false, "title": "% of initial plasma glucose", "titlePadding": 8}}}},
    {"mark": {"type": "tick", "color": "black", "thickness": 1.2, "size": 8}, "encoding": {"y": {"field": "hi", "type": "quantitative", "axis": {"values": [0, 20, 40, 60, 80, 100], "tickCount": 6, "labelOverlap": false, "title": "% of initial plasma glucose", "titlePadding": 8}}}},
    {"mark": {"type": "point", "shape": "circle", "filled": true, "stroke": "black", "strokeWidth": 1.2, "size": 60, "opacity": 1},
     "encoding": {"y": {"field": "v", "type": "quantitative", "axis": {"values": [0, 20, 40, 60, 80, 100], "tickCount": 6, "labelOverlap": false, "title": "% of initial plasma glucose", "titlePadding": 8}}, "fill": {"field": "s", "type": "nominal", "scale": {"domain": ["Vehicle", "Ori"], "range": ["black", "white"]},
      "legend": {"orient": "none", "legendX": 27, "legendY": 146, "direction": "horizontal", "title": null, "symbolType": "M-2.9,0L-1,0M1,0L2.9,0M1,0A1,1,0,1,1,-1,0A1,1,0,1,1,1,0Z", "symbolSize": 64, "symbolStrokeColor": "black", "symbolStrokeWidth": 1.2, "labelOffset": 11, "columnPadding": 19}}}},
    {"data": {"name": "f_st"}, "transform": [{"filter": "datum.t !== 60"}], "mark": {"type": "text", "fontSize": 12, "baseline": "middle", "dy": 2}, "encoding": {"y": {"field": "y", "type": "quantitative", "axis": {"values": [0, 20, 40, 60, 80, 100], "tickCount": 6, "labelOverlap": false, "title": "% of initial plasma glucose", "titlePadding": 8}}, "text": {"value": "***"}}},
    {"data": {"name": "f_st"}, "transform": [{"filter": "datum.t === 60"}], "mark": {"type": "text", "fontSize": 12, "baseline": "middle", "dy": 2, "dx": -23}, "encoding": {"y": {"field": "y", "type": "quantitative", "axis": {"values": [0, 20, 40, 60, 80, 100], "tickCount": 6, "labelOverlap": false, "title": "% of initial plasma glucose", "titlePadding": 8}}, "text": {"value": "***"}}}
   ]
  }]}
 ]}
]
}
